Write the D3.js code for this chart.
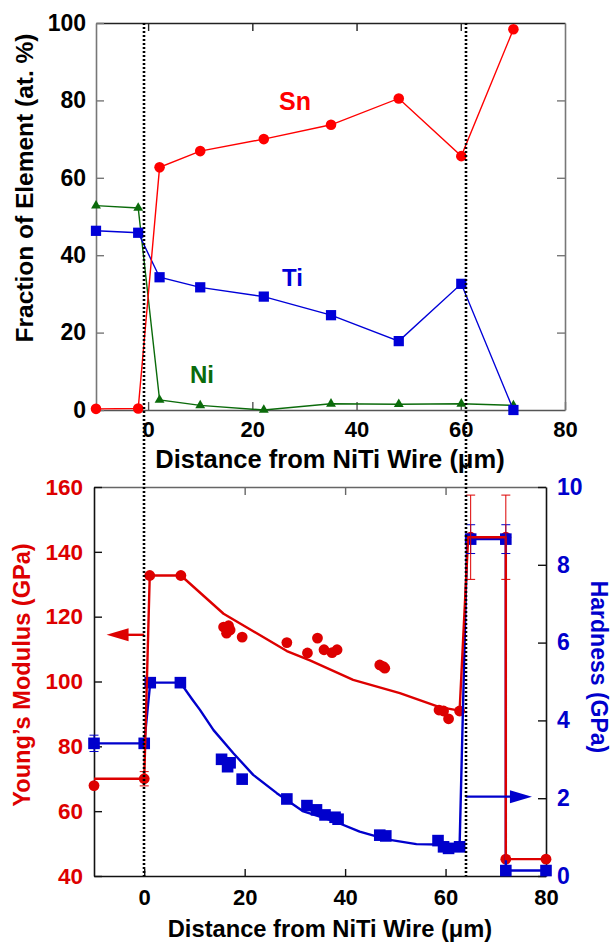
<!DOCTYPE html>
<html>
<head>
<meta charset="utf-8">
<script src="https://cdn.jsdelivr.net/npm/d3@7"></script>
<style>
  html, body { margin: 0; padding: 0; background: #fff; }
  svg { display: block; }
  text { font-family: "Liberation Sans", Arial, Helvetica, sans-serif; font-weight: bold; }
</style>
</head>
<body>
<svg id="chart" width="613" height="943"></svg>
<script>
// ---- Composition across the joint (at. %) ----
const compDistance = [-10, -1.9, 2.2, 10, 22.2, 35.1, 48.1, 60.1, 70.1];
const snFraction   = [0.3, 0.4, 62.7, 66.9, 70.0, 73.7, 80.5, 65.6, 98.4];
const tiFraction   = [46.3, 45.8, 34.3, 31.7, 29.3, 24.5, 17.8, 32.6, 0.0];
const niFraction   = [52.8, 52.2, 2.6, 1.2, 0.0, 1.6, 1.5, 1.6, 1.2];

// ---- Nanoindentation: Young's modulus (GPa) ----
const modDistance = [-10, 0, 1.1, 7.3, 15.8, 16.8, 16.4, 17.1, 19.5, 28.4, 32.5, 34.5, 35.8, 37.4, 38.4,
                     46.9, 47.6, 47.9, 58.7, 59.6, 60.6, 62.8, 65, 72, 72, 80];
const modValue    = [67.9, 70.0, 132.7, 132.7, 116.8, 117.2, 114.9, 115.9, 113.7, 112.0, 108.8, 113.4, 109.8, 108.9, 109.8,
                     105.1, 104.6, 104.1, 91.2, 90.9, 88.5, 90.9, 144.5, 144.5, 45.2, 45.2];
// modulus profile line
const modFitDistance = [-10, 0, 1.1, 7.3, 15.8, 28.4, 33.0, 41.6, 50.9, 58.8, 62.8, 64.5, 72, 72, 80];
const modFitValue    = [70.0, 70.0, 132.7, 132.7, 120.9, 109.4, 106.5, 100.5, 96.4, 92.1, 91.0, 144.5, 144.5, 45.2, 45.2];
// modulus error bars
const modErrDistance = [0, 65, 72];
const modErrValue    = [70.0, 144.5, 144.5];
const modErrSize     = [2.2, 13.0, 13.0];

// ---- Nanoindentation: hardness (GPa) ----
const hardDistance = [-10, 0, 1.2, 7.2, 15.4, 17.1, 16.6, 19.5, 28.4, 32.4, 34.3, 36.0, 38.0, 38.6,
                      46.9, 48.1, 58.5, 59.6, 60.6, 62.8, 65, 72, 72, 80];
const hardValue    = [3.41, 3.41, 4.97, 4.97, 3.00, 2.91, 2.81, 2.49, 1.98, 1.81, 1.70, 1.57, 1.51, 1.46,
                      1.05, 1.03, 0.91, 0.75, 0.71, 0.75, 8.66, 8.66, 0.14, 0.14];
// hardness profile line
const hardFitDistance = [-10, 0, 1.2, 7.2, 9.5, 11.1, 13.8, 17.8, 21.7, 26.4, 31.7, 37.6, 42.9, 48.3, 54.2, 58.8, 62.8, 64.3, 72, 72, 80];
const hardFitValue    = [3.41, 3.41, 4.97, 4.97, 4.55, 4.27, 3.75, 3.15, 2.60, 2.13, 1.66, 1.42, 1.14, 0.94, 0.82, 0.81, 0.80, 8.66, 8.66, 0.14, 0.14];
// hardness error bars
const hardErrDistance = [-10, 65, 72];
const hardErrValue    = [3.41, 8.66, 8.66];
const hardErrSize     = [0.21, 0.37, 0.37];

// interface positions (µm) and axis-pointer arrows
const interfaces = [0, 64];
const modArrow  = { value: 114.4, from: 0,  to: -7.5 };
const hardArrow = { value: 2.04,  from: 64, to: 77.2 };

// tick values
const compTicksX = [0, 20, 40, 60, 80];
const compTicksY = [0, 20, 40, 60, 80, 100];
const nanoTicksX = [0, 20, 40, 60, 80];
const modTicks   = [40, 60, 80, 100, 120, 140, 160];
const hardTicks  = [0, 2, 4, 6, 8, 10];

// ---- colours ----
const C = {
  sn: "#ff0000", ti: "#0000d8", ni: "#0b6b0b",
  mod: "#dd0000", hard: "#0000cc"
};

const svg = d3.select("#chart");
svg.append("rect").attr("width", 613).attr("height", 943).attr("fill", "#fff");

// ---- scales ----
const xTop = d3.scaleLinear().domain([-10, 80]).range([96, 565]);
const yTop = d3.scaleLinear().domain([0, 100]).range([410, 23]);
const xBot = d3.scaleLinear().domain([-10, 80]).range([94, 546]);
const yMod = d3.scaleLinear().domain([40, 160]).range([876, 487]);
const yHard = d3.scaleLinear().domain([0, 10]).range([876, 487]);

function zip(a, b) { return a.map((v, i) => [v, b[i]]); }

function styleAxis(g, color, labelColor, fontSize) {
  g.select(".domain").attr("stroke", color).attr("stroke-width", 1.6);
  g.selectAll(".tick line").attr("stroke", color).attr("stroke-width", 1.4);
  g.selectAll(".tick text").attr("fill", labelColor).attr("font-size", fontSize)
    .attr("font-family", '"Liberation Sans", Arial, sans-serif').attr("font-weight", "bold");
  g.attr("font-family", null).attr("font-size", null);
}

// ================= composition panel =================
const compPanel = svg.append("g");

compPanel.append("g").attr("transform", `translate(0,${yTop(0)})`)
  .call(d3.axisBottom(xTop).tickValues(compTicksX).tickSizeInner(-8).tickSizeOuter(0).tickPadding(11))
  .call(g => styleAxis(g, "#555", "#000", 22));
compPanel.append("g").attr("transform", `translate(0,${yTop(100)})`)
  .call(d3.axisTop(xTop).tickValues(compTicksX.slice(0, 4)).tickSizeInner(-8).tickSizeOuter(0).tickFormat(""))
  .call(g => styleAxis(g, "#222", "#000", 22));
compPanel.append("g").attr("transform", `translate(${xTop(-10)},0)`)
  .call(d3.axisLeft(yTop).tickValues(compTicksY).tickSizeInner(-8).tickSizeOuter(0).tickPadding(10))
  .call(g => styleAxis(g, "#777", "#000", 23));
compPanel.append("g").attr("transform", `translate(${xTop(80)},0)`)
  .call(d3.axisRight(yTop).tickValues(compTicksY.slice(1, 5)).tickSizeInner(-8).tickSizeOuter(0).tickFormat(""))
  .call(g => styleAxis(g, "#777", "#000", 23));

const lineTop = d3.line().x(d => xTop(d[0])).y(d => yTop(d[1]));

const compSeries = [
  { vals: niFraction, color: C.ni, shape: "tri" },
  { vals: tiFraction, color: C.ti, shape: "sq" },
  { vals: snFraction, color: C.sn, shape: "circ" }
];
compSeries.forEach(s => {
  const pts = zip(compDistance, s.vals);
  compPanel.append("path").datum(pts).attr("d", lineTop)
    .attr("fill", "none").attr("stroke", s.color).attr("stroke-width", 1.4);
  const sym = s.shape === "tri" ? d3.symbolTriangle : s.shape === "sq" ? d3.symbolSquare : d3.symbolCircle;
  const size = s.shape === "tri" ? 42 : s.shape === "sq" ? 105 : 88;
  compPanel.selectAll(null).data(pts).enter().append("path")
    .attr("d", d3.symbol().type(sym).size(size))
    .attr("transform", d => `translate(${xTop(d[0])},${yTop(d[1])})`)
    .attr("fill", s.color);
});

compPanel.append("text").attr("x", 279).attr("y", 110).attr("font-size", 25).attr("fill", C.sn).text("Sn");
compPanel.append("text").attr("x", 282).attr("y", 286).attr("font-size", 24).attr("fill", C.ti).text("Ti");
compPanel.append("text").attr("x", 190).attr("y", 383).attr("font-size", 24).attr("fill", C.ni).text("Ni");

compPanel.append("text").attr("x", 330).attr("y", 468).attr("text-anchor", "middle")
  .attr("font-size", 25.5).attr("fill", "#000").text("Distance from NiTi Wire (μm)");
compPanel.append("text").attr("transform", "translate(33,188) rotate(-90)").attr("text-anchor", "middle")
  .attr("font-size", 24.5).attr("fill", "#000").text("Fraction of Element (at. %)");

// ================= nanoindentation panel =================
const nanoPanel = svg.append("g");

nanoPanel.append("g").attr("transform", `translate(0,${yMod(40)})`)
  .call(d3.axisBottom(xBot).tickValues(nanoTicksX).tickSizeInner(-7).tickSizeOuter(0).tickPadding(13))
  .call(g => styleAxis(g, "#111", "#000", 22));
nanoPanel.append("g").attr("transform", `translate(0,${yMod(160)})`)
  .call(d3.axisTop(xBot).tickValues(nanoTicksX.slice(1, 4)).tickSizeInner(-8).tickSizeOuter(0).tickFormat(""))
  .call(g => styleAxis(g, "#666", "#000", 22));
nanoPanel.append("g").attr("transform", `translate(${xBot(-10)},0)`)
  .call(d3.axisLeft(yMod).tickValues(modTicks).tickSizeInner(-8).tickSizeOuter(0).tickPadding(11))
  .call(g => styleAxis(g, "#111", C.mod, 22.5));
nanoPanel.append("g").attr("transform", `translate(${xBot(80)},0)`)
  .call(d3.axisRight(yHard).tickValues(hardTicks).tickSizeInner(-8).tickSizeOuter(0).tickPadding(11))
  .call(g => styleAxis(g, "#111", C.hard, 23));

const lineMod = d3.line().x(d => xBot(d[0])).y(d => yMod(d[1]));
const lineHard = d3.line().x(d => xBot(d[0])).y(d => yHard(d[1]));

const modPts = zip(modDistance, modValue);
const hardPts = zip(hardDistance, hardValue);

// modulus markers sit underneath the hardness layer
nanoPanel.selectAll(null).data(modPts).enter().append("circle")
  .attr("cx", d => xBot(d[0])).attr("cy", d => yMod(d[1])).attr("r", 5.4).attr("fill", C.mod);

nanoPanel.append("path").datum(zip(hardFitDistance, hardFitValue)).attr("d", lineHard)
  .attr("fill", "none").attr("stroke", C.hard).attr("stroke-width", 2.4).attr("stroke-linejoin", "round");
nanoPanel.selectAll(null).data(hardPts).enter().append("rect")
  .attr("x", d => xBot(d[0]) - 5.8).attr("y", d => yHard(d[1]) - 5.8)
  .attr("width", 11.6).attr("height", 11.6).attr("fill", C.hard);

nanoPanel.append("path").datum(zip(modFitDistance, modFitValue)).attr("d", lineMod)
  .attr("fill", "none").attr("stroke", C.mod).attr("stroke-width", 2.4).attr("stroke-linejoin", "round");

// error bars
function errorBars(xs, ys, es, yScale, color) {
  const g = nanoPanel.append("g").attr("stroke", color).attr("stroke-width", 1).attr("fill", "none");
  xs.forEach((x, i) => {
    const px = xBot(x), y1 = yScale(ys[i] + es[i]), y0 = yScale(ys[i] - es[i]);
    g.append("line").attr("x1", px).attr("x2", px).attr("y1", y1).attr("y2", y0);
    g.append("line").attr("x1", px - 4.5).attr("x2", px + 4.5).attr("y1", y1).attr("y2", y1);
    g.append("line").attr("x1", px - 4.5).attr("x2", px + 4.5).attr("y1", y0).attr("y2", y0);
  });
}
errorBars(hardErrDistance, hardErrValue, hardErrSize, yHard, C.hard);
errorBars(modErrDistance, modErrValue, modErrSize, yMod, C.mod);

// arrows pointing at each series' axis
function arrow(a, yScale, color) {
  const y = yScale(a.value), x0 = xBot(a.from), x1 = xBot(a.to);
  const dir = Math.sign(x1 - x0), head = 22, half = 6.5;
  nanoPanel.append("line").attr("x1", x0).attr("x2", x1 - dir * head + dir * 2).attr("y1", y).attr("y2", y)
    .attr("stroke", color).attr("stroke-width", 2.4);
  nanoPanel.append("path")
    .attr("d", `M${x1},${y} L${x1 - dir * head},${y - half} L${x1 - dir * head},${y + half} Z`)
    .attr("fill", color);
}
arrow(modArrow, yMod, C.mod);
arrow(hardArrow, yHard, C.hard);

nanoPanel.append("text").attr("x", 330).attr("y", 937).attr("text-anchor", "middle")
  .attr("font-size", 23.7).attr("fill", "#000").text("Distance from NiTi Wire (μm)");
nanoPanel.append("text").attr("transform", "translate(30,675) rotate(-90)").attr("text-anchor", "middle")
  .attr("font-size", 23.6).attr("fill", C.mod).text("Young’s Modulus (GPa)");
nanoPanel.append("text").attr("transform", "translate(591,667) rotate(90)").attr("text-anchor", "middle")
  .attr("font-size", 23).attr("fill", C.hard).text("Hardness (GPa)");

// interface lines running through both panels
svg.append("g").selectAll(null).data(interfaces).enter().append("line")
  .attr("x1", d => Math.round(xBot(d))).attr("x2", d => Math.round(xBot(d)))
  .attr("y1", yTop(100)).attr("y2", yMod(40))
  .attr("stroke", "#000").attr("stroke-width", 2.6).attr("stroke-dasharray", "2,2");
</script>
</body>
</html>
